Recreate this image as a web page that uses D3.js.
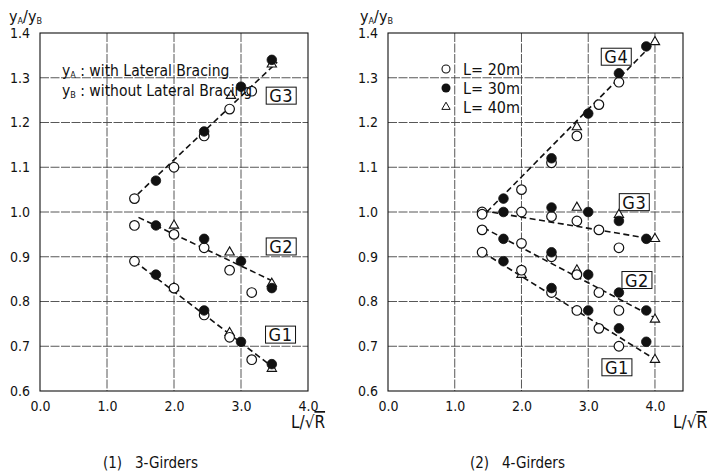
<!DOCTYPE html>
<html><head><meta charset="utf-8">
<script src="https://cdn.jsdelivr.net/npm/d3@7"></script>
<style>
body{margin:0;background:#fff;}
svg{display:block;}
text{font-family:"DejaVu Sans Condensed","Liberation Sans Narrow","Liberation Sans",Arial,sans-serif;fill:#111;font-stretch:condensed;}
</style></head>
<body>
<svg id="c" width="712" height="471"></svg>
<script>
// ---------- data ----------
const xTicks = [0.0, 1.0, 2.0, 3.0, 4.0];
const yTicks = [0.6, 0.7, 0.8, 0.9, 1.0, 1.1, 1.2, 1.3, 1.4];

// Panel (1) 3-Girders
const p1_L20 = [[1.41,1.03],[2.0,1.10],[2.45,1.17],[2.83,1.23],[3.16,1.27],
                [1.41,0.97],[2.0,0.95],[2.45,0.92],[2.83,0.87],[3.16,0.82],
                [1.41,0.89],[2.0,0.83],[2.45,0.77],[2.83,0.72],[3.16,0.67]];
const p1_L30 = [[1.73,1.07],[2.45,1.18],[3.0,1.28],[3.46,1.34],
                [1.73,0.97],[2.45,0.94],[3.0,0.89],[3.46,0.83],
                [1.73,0.86],[2.45,0.78],[3.0,0.71],[3.46,0.66]];
const p1_L40 = [[2.85,1.26],[3.46,1.33],
                [2.0,0.97],[2.83,0.91],[3.46,0.84],
                [2.0,0.83],[2.83,0.73],[3.46,0.65]];
const p1_fits = [["G3",1.46,1.04,3.54,1.335],["G2",1.47,0.988,3.47,0.846],["G1",1.41,0.89,3.53,0.647]];
const p1_labels = [["G3",3.60,1.26],["G2",3.60,0.923],["G1",3.59,0.726]];

// Panel (2) 4-Girders
const p2_L20 = [[1.41,1.00],[2.0,1.05],[2.45,1.11],[2.83,1.17],[3.16,1.24],[3.46,1.29],
                [1.41,0.995],[2.0,1.00],[2.45,0.99],[2.83,0.98],[3.16,0.96],[3.46,0.92],
                [1.41,0.96],[2.0,0.93],[2.45,0.90],[2.83,0.86],[3.16,0.82],[3.46,0.78],
                [1.41,0.91],[2.0,0.87],[2.45,0.82],[2.83,0.78],[3.16,0.74],[3.46,0.70]];
const p2_L30 = [[1.73,1.03],[2.45,1.12],[3.0,1.22],[3.46,1.31],[3.87,1.37],
                [1.73,1.00],[2.45,1.01],[3.0,1.00],[3.46,0.98],[3.87,0.94],
                [1.73,0.94],[2.45,0.91],[3.0,0.86],[3.46,0.82],[3.87,0.78],
                [1.73,0.89],[2.45,0.83],[3.0,0.78],[3.46,0.74],[3.87,0.71]];
const p2_L40 = [[2.83,1.19],[4.0,1.38],
                [2.83,1.01],[3.46,0.994],[4.0,0.94],
                [2.83,0.87],[4.0,0.76],
                [2.0,0.86],[4.0,0.67]];
const p2_fits = [["G4",1.48,1.0,4.03,1.385],["G3",1.42,1.003,4.03,0.938],["G2",1.43,0.965,4.03,0.761],["G1",1.42,0.91,4.03,0.668]];
const p2_labels = [["G4",3.42,1.347],["G3",3.69,1.022],["G2",3.73,0.848],["G1",3.43,0.653]];

const legendL = ["L= 20m","L= 30m","L= 40m"];
const captions = ["(1)   3-Girders","(2)   4-Girders"];

// ---------- drawing ----------
const svg = d3.select("#c");
const ink = "#111";

function panel(cfg){
  const x = d3.scaleLinear().domain([0, cfg.xmax]).range([cfg.x0, cfg.x1]);
  const y = d3.scaleLinear().domain([0.6, 1.4]).range([391, 33]);
  const g = svg.append("g");

  // grid
  g.selectAll(".vg").data(cfg.vgrid).join("line")
    .attr("x1", d=>x(d)).attr("x2", d=>x(d)).attr("y1", y(1.4)).attr("y2", y(0.6))
    .attr("stroke", "#444").attr("stroke-width", 0.9).attr("stroke-dasharray","9,1.5");
  g.selectAll(".hg").data(yTicks.slice(1,-1)).join("line")
    .attr("x1", x(0)).attr("x2", x(cfg.xmax)).attr("y1", d=>y(d)).attr("y2", d=>y(d))
    .attr("stroke", "#444").attr("stroke-width", 0.9).attr("stroke-dasharray","9,1.5");
  // frame
  g.append("rect").attr("x", x(0)).attr("y", y(1.4))
    .attr("width", x(cfg.xmax)-x(0)).attr("height", y(0.6)-y(1.4))
    .attr("fill","none").attr("stroke", ink).attr("stroke-width", 1.1);

  // tick labels via d3 axes (no tick lines)
  const ya = d3.axisLeft(y).tickValues(yTicks).tickFormat(d3.format(".1f")).tickSize(0).tickPadding(10);
  const yg = g.append("g").attr("transform",`translate(${x(0)},0)`).call(ya);
  yg.select(".domain").remove();
  yg.selectAll("text").attr("font-size", 14).attr("font-family",null).attr("fill", ink);
  const xa = d3.axisBottom(x).tickValues(xTicks).tickFormat(d3.format(".1f")).tickSize(0).tickPadding(10);
  const xg = g.append("g").attr("transform",`translate(0,${y(0.6)})`).call(xa);
  xg.select(".domain").remove();
  xg.selectAll("text").attr("font-size", 14).attr("font-family",null).attr("fill", ink);

  // y title yA/yB
  const t = g.append("text").attr("x", cfg.ytx).attr("y", 22).attr("font-size", 16);
  t.append("tspan").text("y");
  t.append("tspan").text("A").attr("font-size", 9).attr("dy", 2);
  t.append("tspan").text("/y").attr("dy", -2);
  t.append("tspan").text("B").attr("font-size", 9).attr("dy", 2);

  // x title L/√R
  const xt = g.append("text").attr("x", cfg.xtx).attr("y", 428).attr("font-size", 17);
  xt.append("tspan").text("L/√");
  xt.append("tspan").text("R").style("text-decoration","overline");

  // fit lines
  g.selectAll(".fit").data(cfg.fits).join("line")
    .attr("x1", d=>x(d[1])).attr("y1", d=>y(d[2])).attr("x2", d=>x(d[3])).attr("y2", d=>y(d[4]))
    .attr("stroke", ink).attr("stroke-width", 1.6).attr("stroke-dasharray", "6,3.5");

  // markers
  g.selectAll(".tri").data(cfg.L40).join("path")
    .attr("transform", d=>`translate(${x(d[0])},${y(d[1])})`)
    .attr("d", d3.symbol(d3.symbolTriangle, 38)())
    .attr("fill","#fff").attr("stroke", ink).attr("stroke-width", 1.1);
  g.selectAll(".oc").data(cfg.L20).join("circle")
    .attr("cx", d=>x(d[0])).attr("cy", d=>y(d[1])).attr("r", 4.8)
    .attr("fill","#fff").attr("stroke", ink).attr("stroke-width", 1.2);
  g.selectAll(".fc").data(cfg.L30).join("circle")
    .attr("cx", d=>x(d[0])).attr("cy", d=>y(d[1])).attr("r", 4.8)
    .attr("fill", ink).attr("stroke", ink).attr("stroke-width", 0.8);

  // group labels with boxes
  cfg.labels.forEach(l=>{
    const cx = x(l[1]), cy = y(l[2]);
    g.append("rect").attr("x", cx-15).attr("y", cy-8.5).attr("width", 30).attr("height", 17)
      .attr("fill","#fff").attr("stroke", ink).attr("stroke-width", 1);
    g.append("text").attr("x", cx).attr("y", cy+6.5).attr("text-anchor","middle")
      .attr("font-size", 18).attr("letter-spacing", 0.5).text(l[0]);
  });
  return {g, x, y};
}

const P1 = panel({x0:40, x1:308, xmax:4.0, vgrid:[1,2,3], ytx:9, xtx:291,
  L20:p1_L20, L30:p1_L30, L40:p1_L40, fits:p1_fits, labels:p1_labels});
const P2 = panel({x0:388, x1:683, xmax:4.42, vgrid:[1,2,3,4], ytx:360, xtx:673,
  L20:p2_L20, L30:p2_L30, L40:p2_L40, fits:p2_fits, labels:p2_labels});

// Left legend text
function yLine(g, xx, yy, sub, rest){
  const t = g.append("text").attr("x", xx).attr("y", yy).attr("font-size", 15.5);
  t.append("tspan").text("y");
  t.append("tspan").text(sub).attr("font-size", 9).attr("dy", 2);
  t.append("tspan").text(rest).attr("dy", -2);
}
yLine(P1.g, 62, 76, "A", " : with Lateral Bracing");
yLine(P1.g, 62, 96, "B", " : without Lateral Bracing");

// Right legend
const lg = P2.g.append("g");
const ly = [69, 88, 107];
lg.append("circle").attr("cx", 446).attr("cy", ly[0]).attr("r", 4).attr("fill","#fff").attr("stroke", ink).attr("stroke-width",1.1);
lg.append("circle").attr("cx", 446).attr("cy", ly[1]).attr("r", 4.5).attr("fill", ink);
lg.append("path").attr("transform",`translate(446,${ly[2]})`).attr("d", d3.symbol(d3.symbolTriangle, 30)())
  .attr("fill","#fff").attr("stroke", ink).attr("stroke-width",1);
legendL.forEach((s,i)=>{
  lg.append("text").attr("x", 463).attr("y", ly[i]+6).attr("font-size", 16).text(s);
});

// captions
svg.append("text").attr("x", 103).attr("y", 468).attr("font-size", 15).style("white-space","pre").text(captions[0]);
svg.append("text").attr("x", 470).attr("y", 468).attr("font-size", 15).style("white-space","pre").text(captions[1]);
</script>
</body></html>
